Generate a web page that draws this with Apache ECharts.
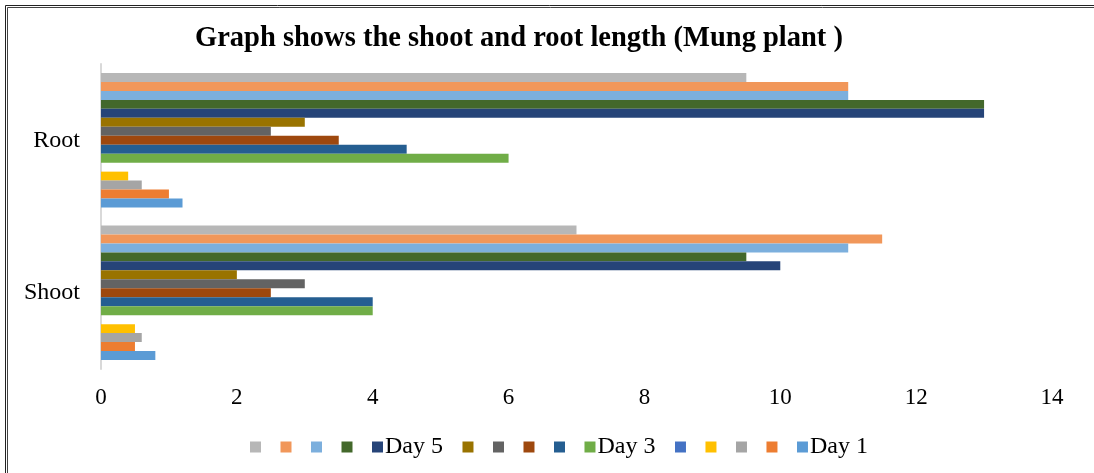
<!DOCTYPE html>
<html>
<head>
<meta charset="utf-8">
<script src="https://cdn.jsdelivr.net/npm/echarts@6/dist/echarts.min.js"></script>
<style>
  html, body { margin: 0; padding: 0; background: #fff; }
  #chart { width: 1094px; height: 473px; }
</style>
</head>
<body>
<div id="chart"></div>
<script>
// Categories (bottom to top on the vertical axis)
const categories = ['Shoot', 'Root'];

// Series 1..15 (Excel order: series 1 drawn at bottom of each group)
const seriesLabels = ['Day 1', '', '', '', '', 'Day 3', '', '', '', '', 'Day 5', '', '', '', ''];
const seriesColors = ['#5B9BD5', '#ED7D31', '#A5A5A5', '#FFC000', '#4472C4',
                      '#70AD47', '#255E91', '#9E480E', '#636363', '#997300',
                      '#264478', '#43682B', '#7CAFDD', '#F1975A', '#B7B7B7'];
// values per series: [Shoot, Root]
const shootValues = [0.8, 0.5, 0.6, 0.5, 0, 4, 4, 2.5, 3, 2, 10, 9.5, 11, 11.5, 7];
const rootValues  = [1.2, 1.0, 0.6, 0.4, 0, 6, 4.5, 3.5, 2.5, 3, 13, 13, 11, 11, 9.5];

const xTicks = { min: 0, max: 14, interval: 2 };

const serif = '"Liberation Serif", "Times New Roman", serif';
const ids = seriesLabels.map((_, i) => 'S' + (i + 1));

// ECharts stacks horizontal bar series top-to-bottom, so add series 15 first
const order = ids.map((_, i) => i).reverse();
const series = order.map(i => ({
  name: ids[i],
  type: 'bar',
  data: [shootValues[i], rootValues[i]],
  itemStyle: { color: seriesColors[i] },
  barGap: '0%',
  barCategoryGap: '11.8%',
  emphasis: { disabled: true }
}));

const chart = echarts.init(document.getElementById('chart'), null, { renderer: 'canvas' });
chart.setOption({
  animation: false,
  backgroundColor: '#ffffff',
  title: {
    text: 'Graph shows the shoot and root length (Mung plant )',
    left: 514,
    textAlign: 'center',
    top: 19,
    textStyle: { fontFamily: serif, fontWeight: 'bold', fontSize: 28.5, color: '#000' }
  },
  grid: { left: 101, right: 42, top: 64, bottom: 104, containLabel: false },
  xAxis: {
    type: 'value',
    min: xTicks.min, max: xTicks.max, interval: xTicks.interval,
    axisLine: { show: false },
    axisTick: { show: false },
    splitLine: { show: false },
    axisLabel: { fontFamily: serif, fontSize: 23, color: '#000', margin: 17 }
  },
  yAxis: {
    type: 'category',
    data: categories,
    axisLine: { show: true, lineStyle: { color: '#d9d9d9', width: 2 } },
    axisTick: { show: false },
    axisLabel: { fontFamily: serif, fontSize: 24, color: '#000', margin: 21 }
  },
  legend: {
    data: ids.slice().reverse(),
    bottom: 9,
    left: 245,
    icon: 'rect',
    itemWidth: 11,
    itemHeight: 11,
    itemGap: 19.5,
    formatter: name => seriesLabels[ids.indexOf(name)],
    textStyle: { fontFamily: serif, fontSize: 24, color: '#000', padding: [0, 0, 0, -3] }
  },
  graphic: [
    { type: 'line', shape: { x1: 5.5, y1: 473, x2: 5.5, y2: 5.5 }, style: { stroke: '#222', lineWidth: 1 } },
    { type: 'line', shape: { x1: 5.5, y1: 5.5, x2: 1094, y2: 5.5 }, style: { stroke: '#222', lineWidth: 1 } },
    { type: 'line', shape: { x1: 7.5, y1: 473, x2: 7.5, y2: 7.5 }, style: { stroke: '#444', lineWidth: 1 } },
    { type: 'line', shape: { x1: 7.5, y1: 7.5, x2: 1094, y2: 7.5 }, style: { stroke: '#444', lineWidth: 1 } }
  ],
  series: series
});
</script>
</body>
</html>
